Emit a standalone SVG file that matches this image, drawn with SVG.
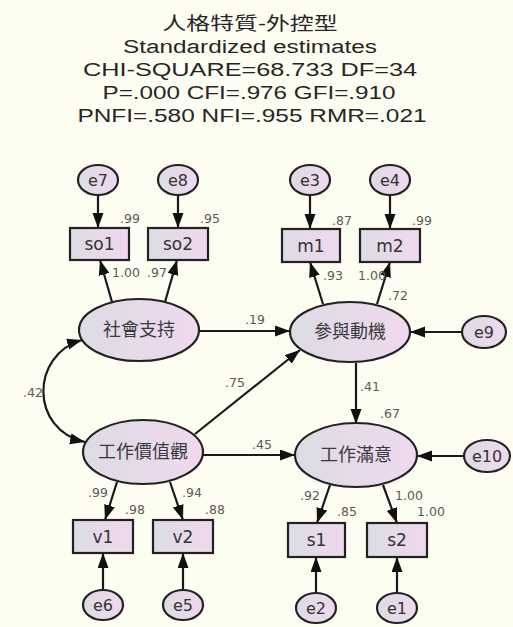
<svg xmlns="http://www.w3.org/2000/svg" width="513" height="627" viewBox="0 0 513 627">
<style>
.bg{fill:#fdfdf2}
.t{font-family:"Liberation Sans","Noto Sans CJK TC",sans-serif;font-size:18px;fill:#262626;text-anchor:middle}
.lat{fill:url(#g);stroke:#222;stroke-width:2.2}
.box{fill:url(#g);stroke:#222;stroke-width:2.2}
.err{fill:url(#g);stroke:#222;stroke-width:2.2}
.cjk{font-family:"Noto Sans CJK TC","Noto Sans CJK SC",sans-serif;font-size:18px;fill:#3a3a3a;text-anchor:middle}
.lb{font-family:"DejaVu Sans","Liberation Sans",sans-serif;font-size:17px;fill:#333;text-anchor:middle}
.el{font-family:"DejaVu Sans","Liberation Sans",sans-serif;font-size:16px;fill:#333;text-anchor:middle}
.n{font-family:"DejaVu Sans","Liberation Sans",sans-serif;font-size:12.5px;fill:#5a5a5a}
.c{fill:none;stroke:#1a1a1a;stroke-width:2.2;marker-end:url(#ah)}
.cc{fill:none;stroke:#1a1a1a;stroke-width:2.2;marker-end:url(#ah);marker-start:url(#ah)}
</style>
<defs>
<linearGradient id="g" x1="0" y1="0" x2="1" y2="0">
<stop offset="0" stop-color="#dcdce4"/>
<stop offset="1" stop-color="#f0d8ee"/>
</linearGradient>
<marker id="ah" markerUnits="userSpaceOnUse" markerWidth="16" markerHeight="12" refX="15" refY="5.5" orient="auto-start-reverse">
<path d="M0,0 L15,5.5 L0,11 z" fill="#111"/>
</marker>
</defs>
<rect class="bg" x="0" y="0" width="513" height="627"/>
<g id="title">
<text class="t" x="250" y="30" font-size="20" textLength="175" lengthAdjust="spacingAndGlyphs">人格特質-外控型</text>
<text class="t" x="250" y="53" textLength="254" lengthAdjust="spacingAndGlyphs">Standardized estimates</text>
<text class="t" x="250" y="76" textLength="334" lengthAdjust="spacingAndGlyphs">CHI-SQUARE=68.733 DF=34</text>
<text class="t" x="249" y="99" textLength="293" lengthAdjust="spacingAndGlyphs">P=.000 CFI=.976 GFI=.910</text>
<text class="t" x="252" y="122" textLength="349" lengthAdjust="spacingAndGlyphs">PNFI=.580 NFI=.955 RMR=.021</text>
</g>
<g id="connectors">
<line class="c" x1="98" y1="195" x2="98" y2="228"/>
<line class="c" x1="178" y1="195" x2="178" y2="228"/>
<line class="c" x1="310" y1="195" x2="310" y2="229"/>
<line class="c" x1="390" y1="195" x2="390" y2="229"/>
<line class="c" x1="112" y1="302" x2="100" y2="260"/>
<line class="c" x1="165" y1="302" x2="177" y2="260"/>
<line class="c" x1="323" y1="304" x2="310" y2="262"/>
<line class="c" x1="377" y1="304" x2="390" y2="262"/>
<line class="c" x1="199" y1="331" x2="290" y2="331"/>
<line class="c" x1="462" y1="332" x2="410" y2="332"/>
<line class="c" x1="195" y1="434" x2="300" y2="350"/>
<line class="c" x1="203" y1="455" x2="295" y2="455"/>
<line class="c" x1="356" y1="363" x2="356" y2="424"/>
<line class="c" x1="464" y1="456" x2="417" y2="456"/>
<line class="c" x1="117" y1="482" x2="105" y2="520"/>
<line class="c" x1="170" y1="482" x2="183" y2="520"/>
<line class="c" x1="330" y1="485" x2="317" y2="523"/>
<line class="c" x1="383" y1="485" x2="397" y2="523"/>
<line class="c" x1="103" y1="590" x2="103" y2="553"/>
<line class="c" x1="183" y1="590" x2="183" y2="553"/>
<line class="c" x1="316" y1="593" x2="316" y2="557"/>
<line class="c" x1="397" y1="593" x2="397" y2="557"/>
<path class="cc" d="M82,340 C30,355 30,430 85,442"/>
<text class="n" x="120" y="223">.99</text>
<text class="n" x="200" y="223">.95</text>
<text class="n" x="112" y="277">1.00</text>
<text class="n" x="147" y="277">.97</text>
<text class="n" x="332" y="225">.87</text>
<text class="n" x="412" y="225">.99</text>
<text class="n" x="323" y="280">.93</text>
<text class="n" x="358" y="280">1.00</text>
<text class="n" x="388" y="300">.72</text>
<text class="n" x="245" y="324">.19</text>
<text class="n" x="225" y="387">.75</text>
<text class="n" x="252" y="449">.45</text>
<text class="n" x="23" y="397">.42</text>
<text class="n" x="360" y="391">.41</text>
<text class="n" x="380" y="418">.67</text>
<text class="n" x="300" y="500">.92</text>
<text class="n" x="337" y="516">.85</text>
<text class="n" x="395" y="500">1.00</text>
<text class="n" x="417" y="516">1.00</text>
<text class="n" x="88" y="497">.99</text>
<text class="n" x="125" y="514">.98</text>
<text class="n" x="182" y="497">.94</text>
<text class="n" x="205" y="514">.88</text>
</g>
<g id="e7"><ellipse class="err" cx="98" cy="180" rx="20" ry="15"/><text class="el" x="98" y="186">e7</text></g>
<g id="e8"><ellipse class="err" cx="178" cy="180" rx="20" ry="15"/><text class="el" x="178" y="186">e8</text></g>
<g id="e3"><ellipse class="err" cx="310" cy="180" rx="20" ry="15"/><text class="el" x="310" y="186">e3</text></g>
<g id="e4"><ellipse class="err" cx="390" cy="180" rx="20" ry="15"/><text class="el" x="390" y="186">e4</text></g>
<g id="e9"><ellipse class="err" cx="484" cy="332" rx="22" ry="16"/><text class="el" x="484" y="338">e9</text></g>
<g id="e10"><ellipse class="err" cx="487" cy="456" rx="23" ry="16"/><text class="el" x="487" y="462">e10</text></g>
<g id="e6"><ellipse class="err" cx="103" cy="605" rx="20" ry="15"/><text class="el" x="103" y="611">e6</text></g>
<g id="e5"><ellipse class="err" cx="183" cy="605" rx="20" ry="15"/><text class="el" x="183" y="611">e5</text></g>
<g id="e2"><ellipse class="err" cx="316" cy="608" rx="20" ry="15"/><text class="el" x="316" y="614">e2</text></g>
<g id="e1"><ellipse class="err" cx="397" cy="608" rx="20" ry="15"/><text class="el" x="397" y="614">e1</text></g>
<g id="so1"><rect class="box" x="70" y="228" width="59" height="32"/><text class="lb" x="99.5" y="250">so1</text></g>
<g id="so2"><rect class="box" x="148" y="228" width="60" height="32"/><text class="lb" x="178" y="250">so2</text></g>
<g id="m1"><rect class="box" x="282" y="229" width="58" height="33"/><text class="lb" x="311" y="252">m1</text></g>
<g id="m2"><rect class="box" x="360" y="229" width="60" height="33"/><text class="lb" x="390" y="252">m2</text></g>
<g id="v1"><rect class="box" x="73" y="520" width="60" height="33"/><text class="lb" x="103" y="543">v1</text></g>
<g id="v2"><rect class="box" x="153" y="520" width="60" height="33"/><text class="lb" x="183" y="543">v2</text></g>
<g id="s1"><rect class="box" x="288" y="523" width="57" height="34"/><text class="lb" x="316.5" y="546">s1</text></g>
<g id="s2"><rect class="box" x="367" y="523" width="60" height="34"/><text class="lb" x="397" y="546">s2</text></g>
<g id="social"><ellipse class="lat" cx="139" cy="330" rx="60" ry="31"/><text class="cjk" x="139" y="336">社會支持</text></g>
<g id="motive"><ellipse class="lat" cx="350" cy="332" rx="60" ry="30"/><text class="cjk" x="350" y="338">參與動機</text></g>
<g id="value"><ellipse class="lat" cx="143" cy="452" rx="60" ry="32"/><text class="cjk" x="143" y="458">工作價值觀</text></g>
<g id="satisfy"><ellipse class="lat" cx="356" cy="455" rx="61" ry="32"/><text class="cjk" x="356" y="461">工作滿意</text></g>
</svg>
